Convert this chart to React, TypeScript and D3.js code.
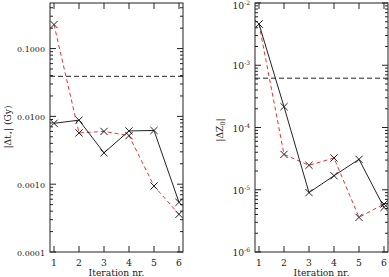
import React from "react";
import * as d3 from "d3";

const iterations = [1, 2, 3, 4, 5, 6];
const dtSolid = [0.0079, 0.0088, 0.0029, 0.0061, 0.0062, 0.00054];
const dtDashed = [0.226, 0.0057, 0.006, 0.0052, 0.00094, 0.00036];
const dtLimit = 0.039;
const dzSolid = [0.0046, 0.000216, 9.0e-6, 1.68e-5, 3.08e-5, 5.2e-6];
const dzDashed = [0.0046, 3.7e-5, 2.47e-5, 3.24e-5, 3.6e-6, 5.9e-6];
const dzLimit = 6.2e-4;
const dtTicks = [1e-4, 1e-3, 1e-2, 1e-1];
const dtTickLabels = ["0.0001", "0.0010", "0.0100", "0.1000"];
const dzTicks = [1e-6, 1e-5, 1e-4, 1e-3, 1e-2];
const dzTickExps = ["-6", "-5", "-4", "-3", "-2"];

const W = 389;
const H = 277;
const top = 3;
const bottom = 252;
const font = "'DejaVu Serif', serif";
const fs = 9.2;
const ink = "#222";

function Cross({ cx, cy }: { cx: number; cy: number }) {
  const s = 3.6;
  return (
    <g stroke={ink} strokeWidth={1}>
      <line x1={cx - s} y1={cy - s} x2={cx + s} y2={cy + s} />
      <line x1={cx - s} y1={cy + s} x2={cx + s} y2={cy - s} />
    </g>
  );
}

function Panel({
  left,
  right,
  domain,
  solid,
  dashed,
  limit,
  majors,
  renderTick,
  label,
}: {
  left: number;
  right: number;
  domain: [number, number];
  solid: number[];
  dashed: number[];
  limit: number;
  majors: number[];
  renderTick: (i: number, y: number) => React.ReactNode;
  label: React.ReactNode;
}) {
  const x = d3.scaleLinear().domain([0.84, 6.16]).range([left, right]);
  const y = d3.scaleLog().domain(domain).range([bottom, top]);
  const line = d3
    .line<number>()
    .x((_, i) => x(iterations[i]))
    .y((d) => y(d));
  const minors = y
    .ticks()
    .filter((t) => !majors.some((m) => Math.abs(m - t) / m < 1e-6));
  return (
    <g>
      <line x1={left} x2={right} y1={y(limit)} y2={y(limit)} stroke={ink} strokeDasharray="5,3" />
      <path d={line(dashed) ?? ""} fill="none" stroke="#f03030" strokeDasharray="4,3" strokeWidth={1} />
      <path d={line(solid) ?? ""} fill="none" stroke={ink} strokeWidth={1} />
      {solid.map((v, i) => (
        <Cross key={"s" + i} cx={x(iterations[i])} cy={y(v)} />
      ))}
      {dashed.map((v, i) => (
        <Cross key={"d" + i} cx={x(iterations[i])} cy={y(v)} />
      ))}
      <rect x={left} y={top} width={right - left} height={bottom - top} fill="none" stroke={ink} strokeWidth={1} />
      {iterations.map((t) => (
        <g key={"x" + t} stroke={ink}>
          <line x1={x(t)} x2={x(t)} y1={bottom} y2={bottom - 6} />
          <line x1={x(t)} x2={x(t)} y1={top} y2={top + 6} />
        </g>
      ))}
      {iterations.map((t) => (
        <text key={"xl" + t} x={x(t)} y={266} textAnchor="middle" fontSize={fs} fill={ink}>
          {t}
        </text>
      ))}
      {majors.map((m) => (
        <g key={"m" + m} stroke={ink}>
          <line x1={left} x2={left + 6} y1={y(m)} y2={y(m)} />
          <line x1={right} x2={right - 6} y1={y(m)} y2={y(m)} />
        </g>
      ))}
      {minors.map((m) => (
        <g key={"n" + m} stroke={ink}>
          <line x1={left} x2={left + 3} y1={y(m)} y2={y(m)} />
          <line x1={right} x2={right - 3} y1={y(m)} y2={y(m)} />
        </g>
      ))}
      {majors.map((m, i) => renderTick(i, y(m)))}
      <text x={(left + right) / 2} y={276} textAnchor="middle" fontSize={fs} fill={ink}>
        Iteration nr.
      </text>
      {label}
    </g>
  );
}

export default function App() {
  return (
    <svg
      width={W}
      height={H}
      style={{ position: "absolute", left: 0, top: 0, background: "#fff", fontFamily: font }}
    >
      <Panel
        left={50}
        right={183}
        domain={[1e-4, 0.47]}
        solid={dtSolid}
        dashed={dtDashed}
        limit={dtLimit}
        majors={dtTicks}
        renderTick={(i, yy) => (
          <text key={"yl" + i} x={45} y={yy + 3.5} textAnchor="end" fontSize={8} fill={ink}>
            {dtTickLabels[i]}
          </text>
        )}
        label={
          <text transform="translate(11,127) rotate(-90)" textAnchor="middle" fontSize={fs} fill={ink}>
            |Δt<tspan fontSize={6.5} dy={2}>⋆</tspan>
            <tspan dy={-2}>| (Gy)</tspan>
          </text>
        }
      />
      <Panel
        left={255}
        right={388}
        domain={[1e-6, 1e-2]}
        solid={dzSolid}
        dashed={dzDashed}
        limit={dzLimit}
        majors={dzTicks}
        renderTick={(i, yy) => (
          <text key={"yl" + i} x={250} y={Math.max(yy + 4, 9)} textAnchor="end" fontSize={fs} fill={ink}>
            10<tspan fontSize={6} dy={-4}>{dzTickExps[i]}</tspan>
          </text>
        )}
        label={
          <text transform="translate(223,130) rotate(-90)" textAnchor="middle" fontSize={fs} fill={ink}>
            |ΔZ<tspan fontSize={6.5} dy={2}>0</tspan>
            <tspan dy={-2}>|</tspan>
          </text>
        }
      />
    </svg>
  );
}
